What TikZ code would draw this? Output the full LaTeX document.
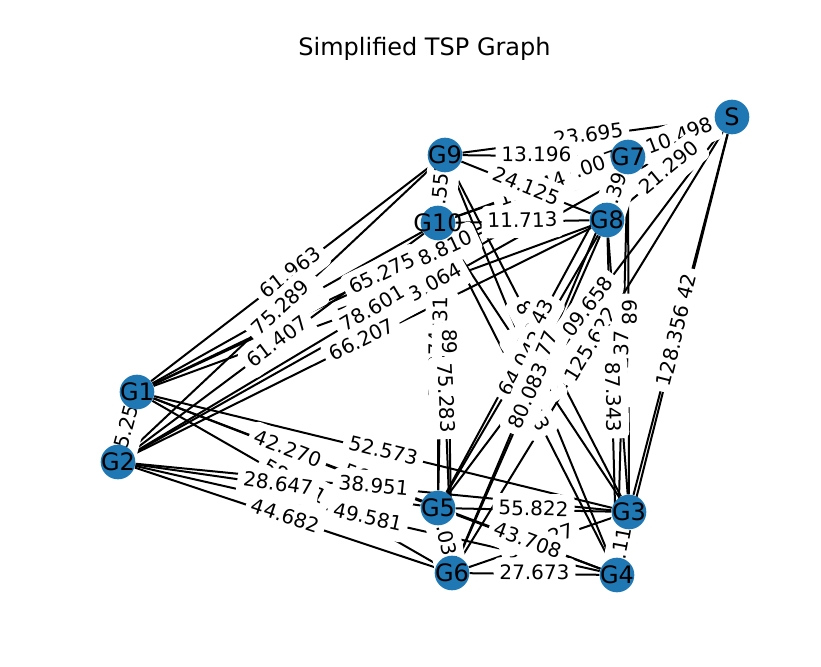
\documentclass[tikz,border=0pt]{standalone}
\usepackage{fontspec}
\setmainfont{DejaVu Sans}
\definecolor{nxblue}{HTML}{1F77B4}
\pgfdeclarelayer{edgelayer}
\pgfdeclarelayer{labellayer}
\pgfsetlayers{edgelayer,labellayer,main}
\def\edgelist{S/G1/118.810,S/G2/103.064,S/G3/130.142,S/G4/128.356,S/G5/109.658,S/G6/125.622,S/G7/10.498,S/G8/21.290,S/G9/23.695,S/G10/47.007,
G1/G2/15.253,G1/G3/52.573,G1/G4/56.190,G1/G5/42.270,G1/G6/58.471,G1/G7/65.275,G1/G8/73.418,G1/G9/61.963,G1/G10/57.102,
G2/G3/38.951,G2/G4/49.581,G2/G5/28.647,G2/G6/44.682,G2/G7/78.601,G2/G8/66.207,G2/G9/75.289,G2/G10/61.407,
G3/G4/4.118,G3/G5/55.822,G3/G6/58.327,G3/G7/68.540,G3/G8/72.905,G3/G9/81.530,G3/G10/70.913,
G4/G5/43.708,G4/G6/27.673,G4/G7/96.237,G4/G8/87.343,G4/G9/88.265,G4/G10/79.413,
G5/G6/6.035,G5/G7/86.943,G5/G8/64.042,G5/G9/72.531,G5/G10/60.374,
G6/G7/90.177,G6/G8/80.083,G6/G9/89.256,G6/G10/75.283,
G7/G8/5.391,G7/G9/13.196,G7/G10/19.844,
G8/G9/24.125,G8/G10/11.713,
G9/G10/4.552}
\begin{document}
\begin{tikzpicture}[x=0.5pt,y=0.5pt,
  vtx/.style={circle,fill=nxblue,draw=none,minimum size=17.32pt,inner sep=0pt,
    label={[font=\fontsize{12}{14}\selectfont,inner sep=0pt]center:#1}},
  edgeline/.style={line width=1pt,black},
  elabel/.style={fill=white,rounded corners=3pt,inner sep=3pt,text height=8pt,text depth=2.3pt,font=\fontsize{10}{12}\selectfont,sloped,midway},
  titlestyle/.style={font=\fontsize{12}{14}\selectfont}]
\useasboundingbox (0,0) rectangle (821,666);
\node[titlestyle] (title) at (424.5,617) {Simplified TSP Graph};
\node[vtx=S]   (S)   at (732,549) {};
\node[vtx=G1]  (G1)  at (137,274) {};
\node[vtx=G2]  (G2)  at (118,204) {};
\node[vtx=G3]  (G3)  at (629,154) {};
\node[vtx=G4]  (G4)  at (617,91)  {};
\node[vtx=G5]  (G5)  at (438,158) {};
\node[vtx=G6]  (G6)  at (452,93)  {};
\node[vtx=G7]  (G7)  at (628,509) {};
\node[vtx=G8]  (G8)  at (607,446) {};
\node[vtx=G9]  (G9)  at (445,511) {};
\node[vtx=G10] (G10) at (438,443) {};
\begin{pgfonlayer}{edgelayer}
\foreach \a/\b/\w in \edgelist { \draw[edgeline] (\a) -- (\b); }
\end{pgfonlayer}
\begin{pgfonlayer}{labellayer}
\foreach \a/\b/\w in \edgelist { \path (\a) -- (\b) node[elabel] {\w}; }
\end{pgfonlayer}
\end{tikzpicture}
\end{document}
